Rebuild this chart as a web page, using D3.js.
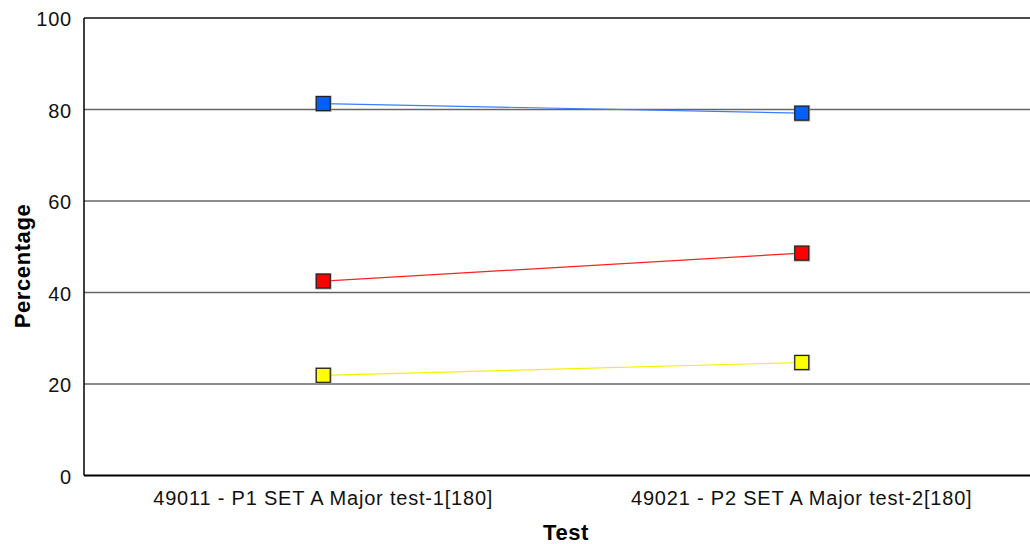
<!DOCTYPE html>
<html><head><meta charset="utf-8">
<script src="https://cdn.jsdelivr.net/npm/d3@7"></script>
<style>body{margin:0;background:#fff}svg{display:block}text{font-family:"Liberation Sans",Arial,sans-serif}</style>
</head><body>
<svg id="c" width="1030" height="544"></svg>
<script>
const categories = ["49011 - P1 SET A Major test-1[180]", "49021 - P2 SET A Major test-2[180]"];
const seriesBlue = [81.3, 79.2];
const seriesRed = [42.5, 48.6];
const seriesYellow = [21.9, 24.7];
const yTicks = [0, 20, 40, 60, 80, 100];
const series = [
  {name: "blue", values: seriesBlue, line: "#3a7dff", fill: "#0060ff"},
  {name: "red", values: seriesRed, line: "#ff2020", fill: "#ff0000"},
  {name: "yellow", values: seriesYellow, line: "#f5f000", fill: "#ffff00"}
];
const svg = d3.select("#c");
const L = 84, R = 1041, T = 18, B = 475.5;
const x = d3.scalePoint().domain(categories).range([L, R]).padding(0.5);
const y = d3.scaleLinear().domain([0, 100]).range([B, T]);

// gridlines
svg.append("g").selectAll("line").data(yTicks.filter(d => d > 0)).join("line")
  .attr("x1", L).attr("x2", 1030).attr("y1", d => y(d)).attr("y2", d => y(d))
  .attr("stroke", d => d === 100 ? "#111" : "#666").attr("stroke-width", d => d === 100 ? 1.5 : 1.4);

// axes
svg.append("line").attr("x1", L).attr("x2", L).attr("y1", T).attr("y2", B).attr("stroke", "#000").attr("stroke-width", 1.5);
svg.append("line").attr("x1", L).attr("x2", 1030).attr("y1", B).attr("y2", B).attr("stroke", "#000").attr("stroke-width", 2);

// y tick labels
svg.append("g").selectAll("text").data(yTicks).join("text")
  .attr("x", 72).attr("y", d => y(d) + 8).attr("text-anchor", "end")
  .attr("font-size", 20).attr("letter-spacing", 0.8).attr("fill", "#111").text(d => d);

// x labels
svg.append("g").selectAll("text").data(categories).join("text")
  .attr("x", d => x(d)).attr("y", 505).attr("text-anchor", "middle")
  .attr("font-size", 20).attr("letter-spacing", 0.8).attr("fill", "#111").text(d => d);

svg.append("text").attr("x", 566).attr("y", 540).attr("text-anchor", "middle")
  .attr("font-size", 22).attr("letter-spacing", 0.6).attr("font-weight", "bold").text("Test");
svg.append("text").attr("transform", "translate(30,266) rotate(-90)").attr("text-anchor", "middle")
  .attr("font-size", 22).attr("letter-spacing", 0.6).attr("font-weight", "bold").text("Percentage");

// lines and markers
const line = d3.line().x((d, i) => x(categories[i])).y(d => y(d));
series.forEach(s => {
  svg.append("path").attr("d", line(s.values)).attr("fill", "none").attr("stroke", s.line).attr("stroke-width", 1.2);
});
const S = 15;
series.forEach(s => {
  const g = svg.append("g");
  g.selectAll("rect.sh").data(s.values).join("rect").attr("class", "sh")
    .attr("x", (d, i) => x(categories[i]) - S / 2 - 0.5).attr("y", d => y(d) - S / 2 - 0.5)
    .attr("width", S + 1.5).attr("height", S + 1.5).attr("fill", "#999").attr("opacity", 0.7);
  g.selectAll("rect.m").data(s.values).join("rect").attr("class", "m")
    .attr("x", (d, i) => x(categories[i]) - S / 2 + 0.5).attr("y", d => y(d) - S / 2 + 0.5)
    .attr("width", S - 1).attr("height", S - 1).attr("fill", s.fill).attr("stroke", "#222").attr("stroke-width", 1.2);
});
</script>
</body></html>
